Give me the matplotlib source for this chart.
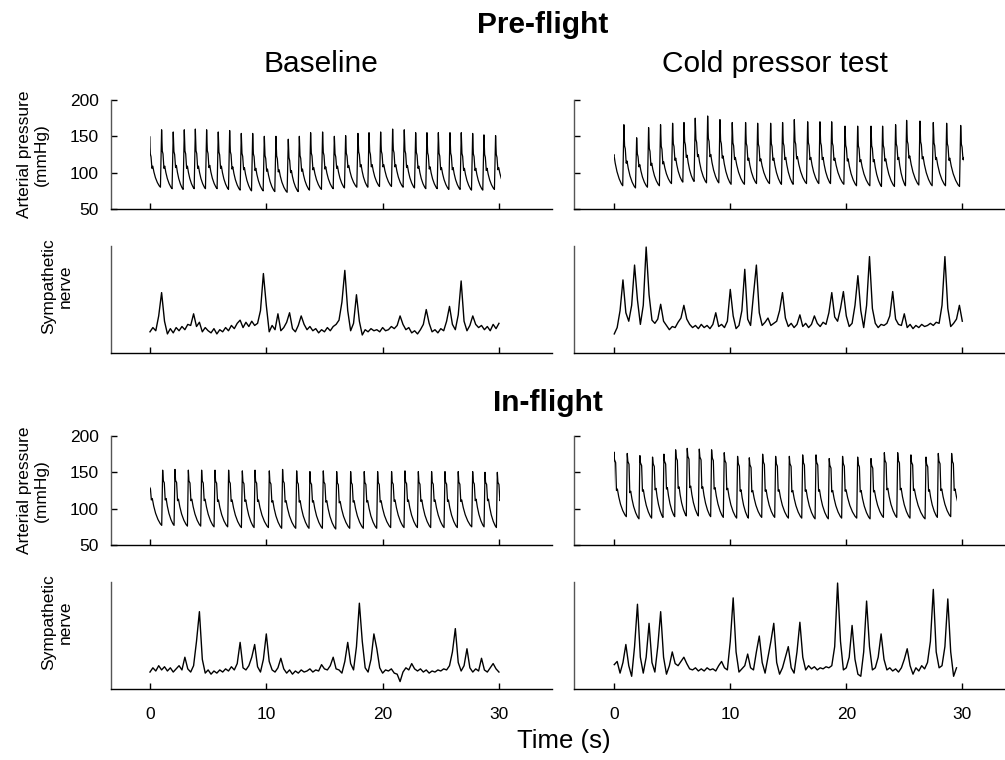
import numpy as np
import matplotlib
matplotlib.use("Agg")
import matplotlib.pyplot as plt
from matplotlib.patches import Rectangle

plt.rcParams["font.family"] = ["Liberation Sans", "DejaVu Sans"]

# ---------------- arterial pressure, one entry per beat ----------------
# peak time (s), systolic peak, dicrotic notch, diastolic minimum before the upstroke (mmHg)
PRE_BASE_PEAK_T = [-0.03, 1.0, 2.0, 2.95, 3.9, 4.87, 5.87, 6.85, 7.85, 8.83,
                   9.83, 10.83, 11.89, 12.84, 13.81, 14.84, 15.85, 16.82, 17.88, 18.83,
                   19.83, 20.86, 21.86, 22.84, 23.81, 24.79, 25.79, 26.76, 27.74, 28.71,
                   29.71, 30.7]
PRE_BASE_SYS = [150, 159, 156, 159, 160, 159, 156, 158, 154, 154,
                150, 150, 146, 150, 155, 156, 150, 151, 154, 155,
                156, 160, 159, 155, 155, 155, 155, 155, 154, 152,
                151, 150]
PRE_BASE_NOTCH = [106, 106, 107, 106, 106, 107, 106, 105, 104, 103,
                  102, 101, 100, 102, 104, 105, 106, 107, 108, 108,
                  108, 108, 107, 106, 105, 104, 104, 103, 103, 103,
                  104, 104]
PRE_BASE_DIA = [82, 80, 78, 77, 78, 78, 78, 77, 76, 75,
                75, 74, 73, 74, 76, 77, 78, 79, 80, 80,
                81, 81, 80, 79, 78, 78, 77, 77, 76, 76,
                77, 80]
PRE_BASE_END = 30.2

PRE_CPT_PEAK_T = [-0.3, 0.83, 1.93, 2.96, 3.99, 5.03, 6.01, 6.98, 8.05, 9.11,
                  10.17, 11.32, 12.36, 13.48, 14.51, 15.52, 16.67, 17.73, 18.74, 19.89,
                  20.98, 22.13, 23.13, 24.25, 25.2, 26.35, 27.5, 28.65, 29.86, 31.0]
PRE_CPT_SYS = [165, 166, 148, 162, 166, 168, 169, 175, 178, 173,
               169, 169, 168, 168, 169, 173, 170, 170, 170, 164,
               164, 164, 164, 166, 172, 171, 169, 168, 165, 165]
PRE_CPT_NOTCH = [122, 113, 108, 110, 112, 117, 121, 122, 122, 120,
                 118, 117, 116, 117, 118, 119, 118, 118, 117, 116,
                 115, 115, 116, 118, 120, 119, 118, 117, 118, 118]
PRE_CPT_DIA = [85, 82, 79, 80, 82, 85, 87, 88, 86, 86,
               84, 84, 85, 85, 84, 84, 85, 85, 85, 84,
               82, 82, 81, 81, 82, 83, 82, 82, 81, 85]
PRE_CPT_END = 30.14

IN_BASE_PEAK_T = [-0.1, 1.09, 2.15, 3.3, 4.44, 5.59, 6.76, 7.94, 9.03, 10.26,
                  11.4, 12.61, 13.75, 14.9, 16.05, 17.25, 18.42, 19.57, 20.77, 21.92,
                  23.07, 24.21, 25.36, 26.5, 27.74, 28.8, 29.86, 31.0]
IN_BASE_SYS = [140, 153, 154, 153, 153, 153, 153, 152, 153, 152,
               154, 152, 151, 152, 151, 151, 151, 151, 151, 152,
               151, 151, 151, 151, 151, 150, 150, 150]
IN_BASE_NOTCH = [112, 112, 111, 111, 111, 110, 110, 110, 110, 109,
                 109, 109, 109, 109, 108, 109, 109, 109, 110, 110,
                 110, 110, 110, 110, 111, 111, 111, 110]
IN_BASE_DIA = [78, 77, 77, 76, 76, 75, 75, 74, 74, 74,
               73, 73, 73, 73, 72, 73, 73, 73, 74, 74,
               74, 74, 74, 74, 75, 75, 74, 76]
IN_BASE_END = 30.1

IN_CPT_PEAK_T = [-0.03, 1.12, 2.21, 3.3, 4.28, 5.29, 6.29, 7.33, 8.39, 9.48,
                 10.63, 11.64, 12.79, 13.91, 15.09, 16.24, 17.39, 18.53, 19.68, 20.98,
                 22.13, 23.28, 24.43, 25.57, 26.87, 27.93, 29.08, 30.2]
IN_CPT_SYS = [178, 176, 173, 171, 175, 181, 183, 182, 181, 177,
              172, 170, 175, 172, 172, 174, 174, 169, 172, 171,
              169, 177, 177, 174, 171, 176, 176, 175]
IN_CPT_NOTCH = [125, 122, 124, 126, 127, 128, 129, 128, 127, 126,
                124, 123, 124, 124, 123, 124, 124, 123, 124, 123,
                123, 126, 126, 125, 124, 125, 125, 125]
IN_CPT_DIA = [90, 89, 86, 87, 88, 89, 90, 90, 89, 88,
              87, 87, 88, 88, 87, 87, 86, 86, 87, 87,
              86, 88, 88, 87, 86, 88, 89, 90]
IN_CPT_END = 29.52

# ---------------- sympathetic nerve activity, one value every 0.25 s (a.u.) ----------------
NERVE_STEP = 0.25
PRE_BASE_NERVE = (
    [20, 24, 21, 35, 57, 30, 18, 23, 19, 24, 21, 25, 22, 27, 26, 37, 25, 29, 20, 24]
    + [21, 19, 23, 18, 22, 20, 24, 21, 26, 23, 28, 31, 24, 29, 25, 30, 26, 28, 40, 75]
    + [45, 20, 26, 22, 37, 21, 24, 29, 38, 23, 20, 26, 35, 27, 22, 25, 21, 23, 19, 22]
    + [20, 24, 21, 25, 27, 31, 48, 78, 40, 21, 28, 55, 30, 17, 22, 20, 23, 21, 22, 20]
    + [24, 21, 22, 25, 23, 26, 35, 27, 22, 24, 19, 21, 18, 22, 27, 41, 28, 20, 22, 19]
    + [23, 21, 30, 44, 27, 22, 36, 68, 30, 21, 26, 35, 27, 24, 26, 22, 25, 21, 27, 23]
    + [28]
)
PRE_CPT_NERVE = (
    [18, 24, 40, 69, 38, 30, 45, 83, 50, 27, 45, 100, 55, 31, 28, 32, 46, 30, 26, 22]
    + [25, 24, 29, 33, 45, 32, 27, 24, 26, 23, 27, 24, 26, 23, 27, 38, 25, 27, 24, 30]
    + [60, 35, 23, 26, 40, 79, 32, 26, 55, 83, 38, 26, 29, 33, 26, 28, 30, 40, 57, 33]
    + [25, 28, 24, 27, 36, 25, 28, 24, 27, 35, 28, 25, 29, 27, 38, 57, 34, 30, 42, 58]
    + [35, 25, 28, 45, 73, 40, 24, 45, 91, 42, 28, 24, 27, 26, 28, 35, 58, 32, 27, 26]
    + [37, 24, 27, 23, 26, 24, 27, 25, 26, 28, 26, 29, 28, 45, 91, 42, 25, 28, 32, 45]
    + [30]
)
IN_BASE_NERVE = (
    [16, 20, 17, 22, 18, 21, 17, 20, 16, 19, 22, 18, 30, 19, 16, 22, 45, 73, 28, 15]
    + [18, 14, 17, 15, 18, 16, 19, 17, 21, 18, 24, 44, 20, 18, 22, 30, 42, 21, 16, 28]
    + [52, 26, 18, 16, 20, 29, 19, 15, 18, 14, 17, 15, 18, 16, 17, 19, 16, 18, 17, 23]
    + [19, 18, 22, 30, 19, 18, 15, 26, 44, 24, 18, 40, 81, 45, 20, 16, 28, 52, 38, 20]
    + [15, 18, 17, 19, 15, 14, 7, 16, 20, 18, 24, 19, 17, 19, 16, 18, 15, 17, 16, 18]
    + [17, 19, 18, 22, 35, 57, 25, 17, 22, 38, 20, 16, 19, 17, 29, 18, 16, 20, 24, 19]
    + [16]
)
IN_CPT_NERVE = (
    [23, 26, 15, 25, 42, 22, 12, 40, 80, 30, 15, 30, 62, 25, 16, 40, 73, 30, 14, 22]
    + [35, 24, 22, 26, 30, 24, 19, 18, 20, 17, 19, 17, 20, 18, 19, 17, 22, 26, 20, 18]
    + [45, 86, 35, 16, 19, 22, 33, 20, 18, 35, 50, 25, 15, 30, 45, 62, 25, 14, 20, 30]
    + [40, 20, 15, 35, 63, 30, 18, 22, 19, 21, 18, 20, 19, 21, 20, 22, 40, 100, 45, 18]
    + [20, 30, 60, 28, 14, 12, 35, 83, 40, 18, 20, 30, 52, 28, 18, 20, 17, 19, 16, 20]
    + [28, 38, 22, 14, 20, 17, 22, 19, 25, 45, 94, 35, 20, 22, 40, 85, 35, 12, 20]
)

X_TICKS = [0, 10, 20, 30]
P_TICKS = [50, 100, 150, 200]

PRE_SHAPE = dict(up=0.1, sh_t=0.06, sh_f=0.45, sh2_t=0.12, sh_drop=4, n_t=0.2, n2_t=0.27, bump=3)
IN_SHAPE = dict(up=0.08, sh_t=0.05, sh_f=0.65, sh2_t=0.14, sh_drop=3, n_t=0.22, n2_t=0.3, bump=2)
IN_CPT_SHAPE = dict(up=0.08, sh_t=0.05, sh_f=0.8, sh2_t=0.15, sh_drop=4, n_t=0.22, n2_t=0.3, bump=2)
DECAY = [(0.15, 0.72), (0.35, 0.45), (0.6, 0.22), (0.85, 0.06)]


def pressure_trace(peak_t, sys_p, notch, dia, shape):
    ts, vs = [], []
    for i in range(len(peak_t)):
        p, s, n, d = peak_t[i], sys_p[i], notch[i], dia[i]
        sh = n + shape["sh_f"] * (s - n)
        pts = [(p - shape["up"], d), (p, s), (p + shape["sh_t"], sh),
               (p + shape["sh2_t"], sh - shape["sh_drop"]),
               (p + shape["n_t"], n), (p + shape["n2_t"], n + shape["bump"])]
        if i + 1 < len(peak_t):
            t0, v0 = pts[-1]
            t1 = peak_t[i + 1] - shape["up"]
            d1 = dia[i + 1]
            for f, g in DECAY:
                pts.append((t0 + f * (t1 - t0), d1 + g * (v0 - d1)))
        for t, v in pts:
            ts.append(t)
            vs.append(v)
    return ts, vs


def style_axes(ax, xlim):
    for side in ["top", "right"]:
        ax.spines[side].set_visible(False)
    ax.spines["left"].set_color("#555555")
    ax.spines["bottom"].set_color("black")
    ax.spines["left"].set_linewidth(1.0)
    ax.spines["bottom"].set_linewidth(1.0)
    ax.set_xlim(*xlim)
    ax.set_xticks(X_TICKS)
    ax.tick_params(axis="both", direction="in", length=4, width=1.0,
                   labelsize=12.5, color="black")
    ax.tick_params(axis="x", pad=13)
    ax.tick_params(axis="y", pad=9)
    ax.set_facecolor("none")


def clipped_plot(ax, t, v, t_end):
    line, = ax.plot(t, v, color="black", lw=0.9)
    clip = Rectangle((0, -1000), t_end, 3000, transform=ax.transData)
    line.set_clip_path(clip)


fig = plt.figure(figsize=(10.05, 7.6), dpi=100)
W, H = 1005.0, 760.0


def add_ax(x0, x1, ytop, ybot):
    return fig.add_axes([x0 / W, 1 - ybot / H, (x1 - x0) / W, (ybot - ytop) / H])


LEFT_X = (111, 552)
RIGHT_X = (574, 1005)
LEFT_XLIM = (-3.35, 34.56)
RIGHT_XLIM = (-3.47, 33.68)

rows = [
    # (pressure top, pressure bottom, nerve top, nerve bottom)
    (100, 209, 246, 353),
    (436, 545, 582, 689),
]

panels = [
    (0, 0, (PRE_BASE_PEAK_T, PRE_BASE_SYS, PRE_BASE_NOTCH, PRE_BASE_DIA), PRE_SHAPE, PRE_BASE_END, PRE_BASE_NERVE),
    (0, 1, (PRE_CPT_PEAK_T, PRE_CPT_SYS, PRE_CPT_NOTCH, PRE_CPT_DIA), PRE_SHAPE, PRE_CPT_END, PRE_CPT_NERVE),
    (1, 0, (IN_BASE_PEAK_T, IN_BASE_SYS, IN_BASE_NOTCH, IN_BASE_DIA), IN_SHAPE, IN_BASE_END, IN_BASE_NERVE),
    (1, 1, (IN_CPT_PEAK_T, IN_CPT_SYS, IN_CPT_NOTCH, IN_CPT_DIA), IN_CPT_SHAPE, IN_CPT_END, IN_CPT_NERVE),
]

for r, c, beats, shape, t_end, nerve in panels:
    ptop, pbot, ntop, nbot = rows[r]
    xs = LEFT_X if c == 0 else RIGHT_X
    xlim = LEFT_XLIM if c == 0 else RIGHT_XLIM

    axp = add_ax(xs[0], xs[1], ptop, pbot)
    style_axes(axp, xlim)
    t, v = pressure_trace(*beats, shape)
    clipped_plot(axp, t, v, t_end)
    axp.set_ylim(50, 200)
    axp.set_yticks(P_TICKS)
    axp.tick_params(axis="x", labelbottom=False)
    if c == 1:
        axp.tick_params(axis="y", labelleft=False)

    axn = add_ax(xs[0], xs[1], ntop, nbot)
    style_axes(axn, xlim)
    tn = np.arange(len(nerve)) * NERVE_STEP
    axn.plot(tn, nerve, color="black", lw=1.0)
    axn.set_ylim(0, 101)
    axn.set_yticks([])
    if r == 0:
        axn.tick_params(axis="x", labelbottom=False)

# titles and labels
fig.text(477 / W, 1 - 33 / H, "Pre-flight", fontsize=21.5, fontweight="bold", ha="left", va="baseline")
fig.text(493 / W, 1 - 411 / H, "In-flight", fontsize=21.5, fontweight="bold", ha="left", va="baseline")
fig.text(263 / W, 1 - 72 / H, "Baseline", fontsize=21.5, ha="left", va="baseline")
fig.text(662 / W, 1 - 72 / H, "Cold pressor test", fontsize=21.5, ha="left", va="baseline")
fig.text(517 / W, 1 - 748 / H, "Time (s)", fontsize=18.5, ha="left", va="baseline")

for ytop, ybot, ny in [(100, 209, 286), (436, 545, 622)]:
    fig.text(33 / W, 1 - (ytop + ybot) / 2 / H, "Arterial pressure\n(mmHg)", fontsize=12.5,
             rotation=90, ha="center", va="center", multialignment="center", linespacing=1.15)
    fig.text(57 / W, 1 - ny / H, "Sympathetic\nnerve", fontsize=12.5,
             rotation=90, ha="center", va="center", multialignment="center", linespacing=1.15)

fig.savefig("out.png", dpi=100)
